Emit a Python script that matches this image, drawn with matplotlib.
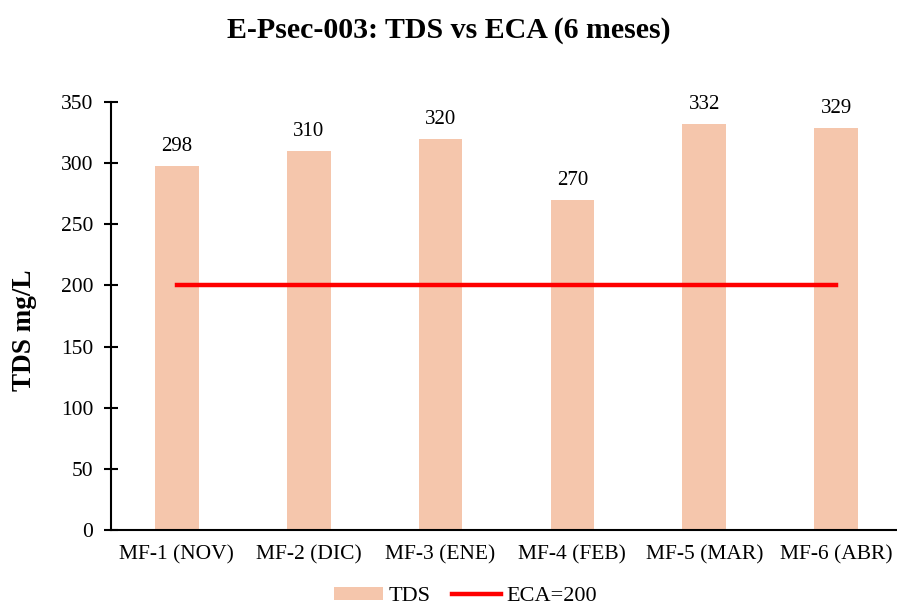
import matplotlib.pyplot as plt
import numpy as np

plt.rcParams['font.family'] = ['Liberation Serif', 'DejaVu Serif']

categorias = ['MF-1 (NOV)', 'MF-2 (DIC)', 'MF-3 (ENE)', 'MF-4 (FEB)', 'MF-5 (MAR)', 'MF-6 (ABR)']
tds = [298, 310, 320, 270, 332, 329]
eca = [200, 200, 200, 200, 200, 200]

fig = plt.figure(figsize=(8.97, 6.07), dpi=100)
ax = fig.add_axes([111/897, 77/607, 791/897, 428/607])

x = np.arange(len(categorias))
barras = ax.bar(x, tds, width=0.33, color='#F5C6AC', label='TDS', zorder=2)
linea, = ax.plot(x, eca, color='#FF0000', linewidth=3.2, label='ECA=200', zorder=3)

for xi, v in zip(x, tds):
    ax.text(xi, v + 8, str(v), ha='center', va='bottom', fontsize=15)

ax.set_xlim(-0.5, 5.5)
ax.set_ylim(0, 350)
ax.set_yticks(range(0, 351, 50))
ax.set_xticks(x)
ax.set_xticklabels(categorias, fontsize=15.5)
ax.tick_params(axis='y', labelsize=15.5, direction='inout', length=9.5, width=1.5, pad=8)
ax.tick_params(axis='x', length=0, pad=11)
for s in ['top', 'right']:
    ax.spines[s].set_visible(False)
ax.spines['left'].set_linewidth(1.5)
ax.spines['bottom'].set_linewidth(1.5)

ax.set_ylabel('TDS mg/L', fontsize=19.5, fontweight='bold')
ax.yaxis.set_label_coords(-0.094, 0.467)
fig.suptitle('E-Psec-003: TDS vs ECA (6 meses)', fontsize=21.5, fontweight='bold', y=0.972)

# leyenda abajo, pegada al borde como en el original
fig.legend([barras, linea], ['TDS', 'ECA=200'], loc='lower center', bbox_to_anchor=(0.519, -0.032),
           ncol=2, frameon=False, fontsize=16, handlelength=2.2, handleheight=0.5,
           columnspacing=1.0, handletextpad=0.25)

fig.savefig('out.png', dpi=100)
